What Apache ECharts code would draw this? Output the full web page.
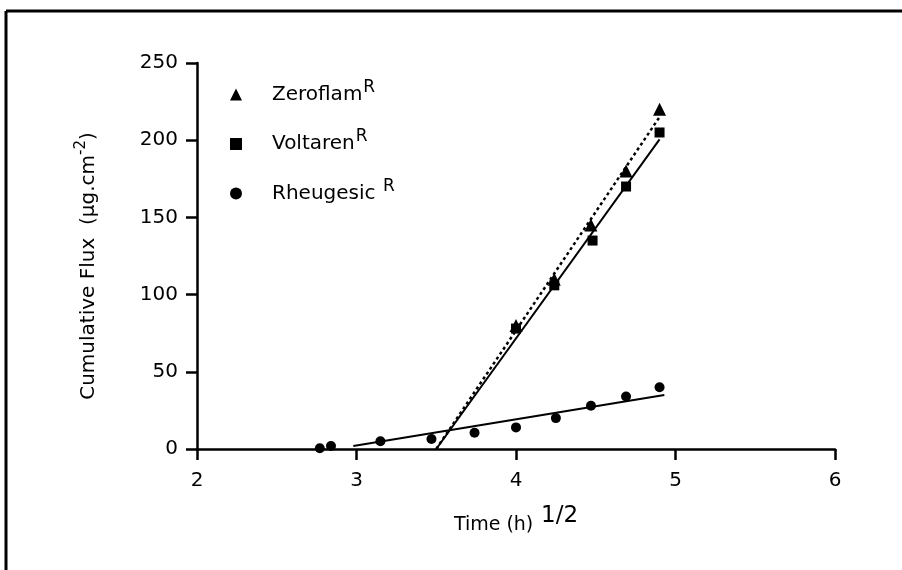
<!DOCTYPE html>
<html>
<head>
<meta charset="utf-8">
<script src="https://cdn.jsdelivr.net/npm/echarts@6/dist/echarts.min.js"></script>
<style>
  html, body { margin: 0; padding: 0; background: #fff; }
  #main { width: 902px; height: 570px; }
</style>
</head>
<body>
<div id="main"></div>
<script>
// series names + measured points (x = time^1/2)
var names = ['Zeroflam', 'Voltaren', 'Rheugesic'];
var zeroflam = [[4.0, 80], [4.24, 110], [4.47, 145], [4.69, 180], [4.9, 220]];
var voltaren = [[4.0, 78], [4.24, 106], [4.48, 135], [4.69, 170], [4.9, 205]];
var rheugesic = [[2.77, 0.5], [2.84, 2], [3.15, 5], [3.47, 6.5], [3.74, 10.5], [4.0, 14], [4.25, 20], [4.47, 28], [4.69, 34], [4.9, 40]];
// fitted regression lines (end points)
var fitZeroflam = [[3.5, 0], [4.9, 215]];
var fitVoltaren = [[3.5, 0], [4.9, 200.5]];
var fitRheugesic = [[2.98, 2], [4.93, 35]];
var xTicks = [2, 3, 4, 5, 6];
var yTicks = [0, 50, 100, 150, 200, 250];

var font = 'DejaVu Sans, Verdana, sans-serif';
var chart = echarts.init(document.getElementById('main'));

var option = {
    backgroundColor: '#fff',
    animation: false,
    textStyle: { fontFamily: font, color: '#000' },
    grid: { left: 197, right: 67, top: 63, bottom: 121 },
    graphic: [
        { type: 'line', shape: { x1: 6, y1: 11, x2: 902, y2: 11 }, style: { stroke: '#000', lineWidth: 3 } },
        { type: 'line', shape: { x1: 6, y1: 11, x2: 6, y2: 570 }, style: { stroke: '#000', lineWidth: 3 } }
    ],
    legend: {
        orient: 'vertical',
        left: 225,
        top: 74,
        itemWidth: 12,
        itemHeight: 12,
        itemGap: 24,
        data: names,
        formatter: function (name) {
            return '{n|' + name + (name === 'Rheugesic' ? ' ' : '') + '}{s|R}';
        },
        textStyle: {
            fontFamily: font,
            rich: {
                n: { fontSize: 20, color: '#000', fontFamily: font, padding: [0, 0, 0, 25] },
                s: { fontSize: 17, color: '#000', fontFamily: font, padding: [0, 0, 14, 1] }
            }
        }
    },
    xAxis: {
        type: 'value',
        min: xTicks[0],
        max: xTicks[xTicks.length - 1],
        interval: 1,
        name: '{t|Time (h)} {s|1/2}',
        nameLocation: 'middle',
        nameGap: 56,
        nameTextStyle: {
            rich: {
                t: { fontSize: 19, color: '#000', fontFamily: font },
                s: { fontSize: 23, color: '#000', fontFamily: font, padding: [0, 0, 18, 4] }
            }
        },
        axisLine: { lineStyle: { color: '#000', width: 2.5 } },
        axisTick: { length: 11, lineStyle: { color: '#000', width: 2.5 } },
        axisLabel: { color: '#000', fontSize: 20, margin: 22, fontFamily: font },
        splitLine: { show: false }
    },
    yAxis: {
        type: 'value',
        min: yTicks[0],
        max: yTicks[yTicks.length - 1],
        interval: 50,
        name: 'Cumulative Flux  (\u00b5g.cm{s|-2})',
        nameLocation: 'middle',
        nameGap: 94,
        nameTextStyle: {
            fontSize: 20,
            color: '#000',
            fontFamily: font,
            padding: [0, 20, 0, 0],
            rich: {
                s: { fontSize: 15, color: '#000', fontFamily: font, padding: [0, 0, 14, 0] }
            }
        },
        axisLine: { lineStyle: { color: '#000', width: 2.5 } },
        axisTick: { length: 11, lineStyle: { color: '#000', width: 2.5 } },
        axisLabel: { color: '#000', fontSize: 20, margin: 19, fontFamily: font },
        splitLine: { show: false }
    },
    series: [
        {
            name: 'Zeroflam', type: 'scatter', data: zeroflam,
            symbol: 'triangle', symbolSize: 13, itemStyle: { color: '#000', opacity: 1 }
        },
        {
            name: 'Voltaren', type: 'scatter', data: voltaren,
            symbol: 'rect', symbolSize: 10, itemStyle: { color: '#000', opacity: 1 }
        },
        {
            name: 'Rheugesic', type: 'scatter', data: rheugesic,
            symbol: 'circle', symbolSize: 10, itemStyle: { color: '#000', opacity: 1 }
        },
        {
            name: 'fitZ', type: 'line', data: fitZeroflam, showSymbol: false, symbol: 'none',
            lineStyle: { color: '#000', width: 2.5, type: [3, 3] }, z: 1
        },
        {
            name: 'fitV', type: 'line', data: fitVoltaren, showSymbol: false, symbol: 'none',
            lineStyle: { color: '#000', width: 2 }, z: 1
        },
        {
            name: 'fitR', type: 'line', data: fitRheugesic, showSymbol: false, symbol: 'none',
            lineStyle: { color: '#000', width: 2 }, z: 1
        }
    ]
};

chart.setOption(option);
</script>
</body>
</html>
